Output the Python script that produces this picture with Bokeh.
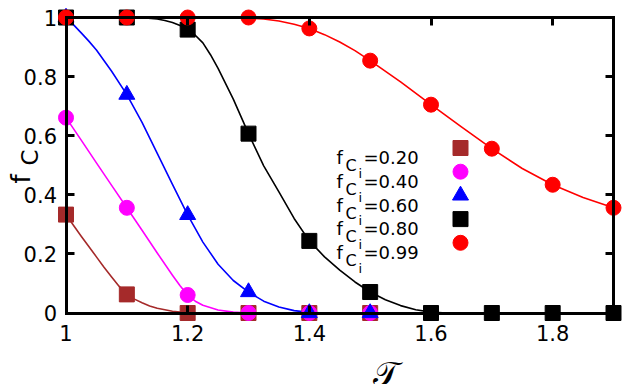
from bokeh.plotting import figure
from bokeh.models import Range1d, LinearAxis, FixedTicker, Label, CustomJSTickFormatter
from bokeh.embed import file_html
from bokeh.resources import INLINE

# ---------------- data ----------------
tau = [1.0, 1.1, 1.2, 1.3, 1.4, 1.5, 1.6, 1.7, 1.8, 1.9]

f020_y = [0.333, 0.063, 0.0, 0.0, 0.0, 0.0]
f040_y = [0.661, 0.356, 0.061, 0.0, 0.0, 0.0]
f060_y = [1.0, 0.739, 0.332, 0.071, 0.0, 0.0]
f080_y = [1.0, 1.0, 0.959, 0.607, 0.244, 0.071, 0.0, 0.0, 0.0, 0.0]
f099_y = [1.0, 1.0, 1.0, 1.0, 0.963, 0.854, 0.705, 0.556, 0.434, 0.356]

# fitted curves
c020_x = [1.0, 1.0125, 1.025, 1.0375, 1.05, 1.0625, 1.075, 1.0875, 1.1, 1.1125, 1.125, 1.1375,
          1.15, 1.175, 1.2, 1.225]
c020_y = [0.333, 0.296, 0.26, 0.225, 0.19, 0.155, 0.122, 0.09, 0.063, 0.047, 0.035, 0.024,
          0.016, 0.006, 0.001, 0.0]

c040_x = [1.0, 1.025, 1.05, 1.075, 1.1, 1.125, 1.15, 1.175, 1.1875, 1.2, 1.2125, 1.225, 1.25,
          1.275, 1.3]
c040_y = [0.661, 0.585, 0.508, 0.432, 0.356, 0.28, 0.203, 0.128, 0.092, 0.061, 0.04, 0.026, 0.01,
          0.003, 0.0]

c060_x = [1.0, 1.0125, 1.025, 1.0375, 1.05, 1.075, 1.1, 1.125, 1.15, 1.175, 1.2, 1.225, 1.25,
          1.275, 1.3, 1.325, 1.35, 1.375, 1.4, 1.425]
c060_y = [1.0, 0.975, 0.948, 0.92, 0.89, 0.818, 0.739, 0.645, 0.54, 0.435, 0.332, 0.24, 0.165,
          0.11, 0.071, 0.04, 0.02, 0.008, 0.002, 0.0]

c080_x = [1.0, 1.1, 1.125, 1.15, 1.1625, 1.175, 1.1875, 1.2, 1.2125, 1.225, 1.2375, 1.25, 1.275,
          1.3, 1.325, 1.35, 1.375, 1.4, 1.425, 1.45, 1.475, 1.5, 1.525, 1.55, 1.575, 1.6, 1.625]
c080_y = [1.0, 1.0, 0.999, 0.995, 0.99, 0.983, 0.973, 0.959, 0.94, 0.914, 0.874, 0.828, 0.724,
          0.607, 0.498, 0.41, 0.32, 0.244, 0.19, 0.145, 0.105, 0.071, 0.045, 0.025, 0.011, 0.003,
          0.0]

c099_x = [1.0, 1.25, 1.3, 1.325, 1.35, 1.375, 1.4, 1.425, 1.45, 1.475, 1.5, 1.55, 1.6, 1.65, 1.7,
          1.75, 1.8, 1.85, 1.9]
c099_y = [1.0, 1.0, 0.998, 0.995, 0.988, 0.977, 0.963, 0.942, 0.917, 0.888, 0.854, 0.782, 0.705,
          0.63, 0.556, 0.489, 0.434, 0.391, 0.356]

series_names = ["0.20", "0.40", "0.60", "0.80", "0.99"]
series_colors = ["#a52a2a", "#ff00ff", "#0000ff", "#000000", "#ff0000"]

x_ticks = [1.0, 1.2, 1.4, 1.6, 1.8]
x_tick_labels = ["1", "1.2", "1.4", "1.6", "1.8"]
y_ticks = [0.0, 0.2, 0.4, 0.6, 0.8, 1.0]
y_tick_labels = ["0", "0.2", "0.4", "0.6", "0.8", "1"]

# ---------------- layout ----------------
W, H = 640, 384
AX_X0, AX_X1 = 65.5, 613.0   # px of tau=1.0 / 1.9
AX_Y1, AX_Y0 = 17.0, 312.5   # px of f=1 / f=0
sx = (AX_X1 - AX_X0) / 0.9
sy = (AX_Y0 - AX_Y1) / 1.0


def X(px):
    return 1.0 + (px - AX_X0) / sx


def Y(py):
    return (AX_Y0 - py) / sy


# the frame covers the whole canvas; the axes are drawn at fixed data locations
p = figure(width=W, height=H, output_backend="svg", toolbar_location=None,
           x_range=Range1d(X(0), X(W)), y_range=Range1d(Y(H), Y(0)),
           x_axis_type=None, y_axis_type=None,
           min_border_left=0, min_border_right=0, min_border_top=0, min_border_bottom=0)
p.outline_line_color = None
p.background_fill_color = "white"
p.border_fill_color = "white"
p.xgrid.visible = False
p.ygrid.visible = False


def style_axis(ax, labels):
    ax.axis_line_width = 3
    ax.axis_line_color = "black"
    ax.axis_line_cap = "square"
    ax.major_tick_in = 8
    ax.major_tick_out = 0
    ax.major_tick_line_width = 3
    ax.major_tick_line_color = "black"
    ax.minor_tick_in = 0
    ax.minor_tick_out = 0
    if labels:
        ax.major_label_text_font = "DejaVu Sans"
        ax.major_label_text_font_size = "21px"
        ax.major_label_text_color = "black"
    else:
        ax.formatter = CustomJSTickFormatter(code="return ''")
        ax.major_label_text_font_size = "1px"
        ax.major_label_standoff = 0


bottom = LinearAxis(fixed_location=0.0, bounds=(1.0, 1.9), ticker=FixedTicker(ticks=x_ticks),
                    major_label_overrides={t: l for t, l in zip(x_ticks, x_tick_labels)})
style_axis(bottom, True)
bottom.major_label_standoff = 12
top = LinearAxis(fixed_location=1.0, bounds=(1.0, 1.9), ticker=FixedTicker(ticks=x_ticks))
style_axis(top, False)
left = LinearAxis(fixed_location=1.0, bounds=(0.0, 1.0), ticker=FixedTicker(ticks=y_ticks),
                  major_label_overrides={t: l for t, l in zip(y_ticks, y_tick_labels)})
style_axis(left, True)
left.major_label_standoff = 9
right = LinearAxis(fixed_location=1.9, bounds=(0.0, 1.0), ticker=FixedTicker(ticks=y_ticks))
style_axis(right, False)
p.add_layout(bottom, "below")
p.add_layout(left, "left")
p.add_layout(top, "above")
p.add_layout(right, "right")

# curves
curves = [(c020_x, c020_y), (c040_x, c040_y), (c060_x, c060_y), (c080_x, c080_y), (c099_x, c099_y)]
for (cx, cy), col in zip(curves, series_colors):
    p.line(cx, cy, line_color=col, line_width=1.6, line_join="round")

# markers
markers = ["square", "circle", "triangle", "square", "circle"]
sizes = [15, 15, 16, 15, 15]
ys = [f020_y, f040_y, f060_y, f080_y, f099_y]
for yv, col, mk, sz in zip(ys, series_colors, markers, sizes):
    p.scatter(tau[:len(yv)], yv, marker=mk, size=sz, fill_color=col, line_color=col, line_width=1)


def lab(px, py, text, size, **kw):
    opts = dict(text_font="DejaVu Sans", text_color="black", text_baseline="alphabetic",
                text_align="left")
    opts.update(kw)
    p.add_layout(Label(x=X(px), y=Y(py), text=text, text_font_size=size, **opts))


# legend (manual key)
LEG_TX, LEG_BASE, LEG_DY, LEG_MX, LEG_MY = 336, 157.3, 23.7, 460, 147.5
for i, (name, col, mk, sz) in enumerate(zip(series_names, series_colors, markers, sizes)):
    b = LEG_BASE + i * LEG_DY
    lab(LEG_TX, b, "f", "18px")
    lab(LEG_TX + 9, b + 8, "C", "16px")
    lab(LEG_TX + 22, b + 15.5, "i", "13px")
    lab(LEG_TX + 27, b, "=" + name, "18px")
    p.scatter([X(LEG_MX)], [Y(LEG_MY + i * LEG_DY)], marker=mk, size=sz,
              fill_color=col, line_color=col, line_width=1)

# axis titles
lab(20.5, 183, "f", "26px", angle=1.5708)
lab(29, 165, "C", "23px", angle=1.5708)
lab(385, 353, "\U0001D4AF", "34px", text_baseline="top", text_align="center")

open("out.html", "w").write(file_html(p, INLINE))
